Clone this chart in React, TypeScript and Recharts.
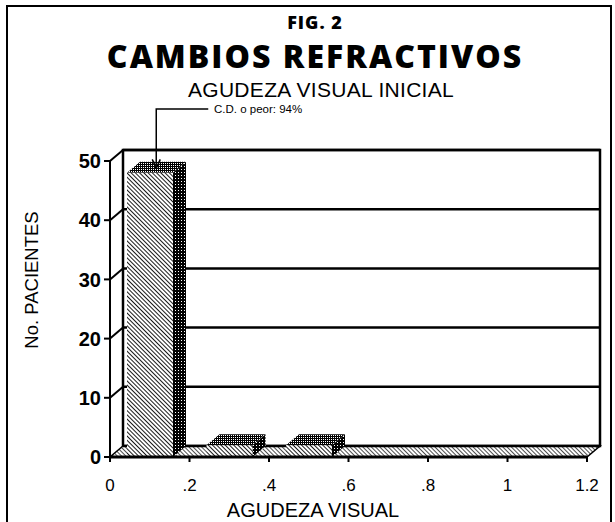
import { BarChart, Bar, XAxis, YAxis, ReferenceArea, ReferenceLine, ReferenceDot } from 'recharts'

// values
const agudeza = [0.1, 0.3, 0.5]
const pacientes = [48, 2, 2]
const xTicks = [0, 0.2, 0.4, 0.6, 0.8, 1, 1.2]
const xTickLabels = ['0', '.2', '.4', '.6', '.8', '1', '1.2']
const yTicks = [0, 10, 20, 30, 40, 50]
const gridLevels = [10, 20, 30, 40, 50]

const data = agudeza.map((x, i) => ({ agudeza: x, pacientes: pacientes[i] }))

// depth of the fake 3D box
const DX = 13
const DY = -11
const SANS = '"Liberation Sans", Arial, sans-serif'
const TITLE = '"Open Sans", Lato, sans-serif'

function Box3D(props: any) {
  const { x, y, width, height } = props
  if (!height || height <= 0) return null
  const r = x + width
  const b = y + height
  return (
    <g>
      <polygon
        points={`${x},${y} ${x + DX},${y + DY} ${r + DX},${y + DY} ${r},${y}`}
        fill="url(#dots)"
      />
      <polygon
        points={`${r},${y} ${r + DX},${y + DY} ${r + DX},${b + DY} ${r},${b}`}
        fill="url(#dark)"
      />
      <rect x={x} y={y} width={width} height={height} fill="url(#hatch)" />
    </g>
  )
}

function BackWall(props: any) {
  const { x, y, width, height } = props
  return (
    <rect x={x + DX} y={y + DY} width={width} height={height} fill="#fff" stroke="#000" strokeWidth={2.5} />
  )
}

function Floor(props: any) {
  const { x1, y1, x2, y2 } = props
  return (
    <g>
      <polygon
        points={`${x1},${y1} ${x2},${y2} ${x2 + DX},${y2 + DY} ${x1 + DX},${y1 + DY}`}
        fill="url(#floor)"
        stroke="#000"
        strokeWidth={1.5}
      />
      <line x1={x1 + DX} y1={y1 + DY} x2={x2 + DX} y2={y2 + DY} stroke="#000" strokeWidth={2.5} />
    </g>
  )
}

function GridLine(props: any) {
  const { x1, y1, x2, y2 } = props
  return (
    <g>
      <line x1={x1 + DX} y1={y1 + DY} x2={x2 + DX} y2={y2 + DY} stroke="#000" strokeWidth={2.5} />
      <line x1={x1} y1={y1} x2={x1 + DX} y2={y1 + DY} stroke="#000" strokeWidth={2} />
    </g>
  )
}

function Pointer(props: any) {
  const { cx, cy } = props
  const tx = cx + DX / 2
  const ty = cy + DY / 2 + 1
  return (
    <g stroke="#000" strokeWidth={1.5} fill="none">
      <polyline points={`${tx},${ty} ${tx},109 ${tx + 52},109`} />
      <polyline points={`${tx - 4},${ty - 9} ${tx},${ty} ${tx + 4},${ty - 9}`} />
    </g>
  )
}

export default function App() {
  return (
    <div style={{ position: 'absolute', left: 0, top: 0, width: 615, height: 522, background: '#fff' }}>
      <svg width={615} height={522} style={{ position: 'absolute', left: 0, top: 0 }}>
        <defs>
          <pattern id="hatch" width="3" height="3" patternUnits="userSpaceOnUse" patternTransform="rotate(-45)">
            <rect width="3" height="3" fill="#fff" />
            <line x1="0" y1="0" x2="0" y2="3" stroke="#000" strokeWidth="1.8" />
          </pattern>
          <pattern id="floor" width="3" height="3" patternUnits="userSpaceOnUse" patternTransform="rotate(-45)">
            <rect width="3" height="3" fill="#fff" />
            <line x1="0" y1="0" x2="0" y2="3" stroke="#000" strokeWidth="1.4" />
          </pattern>
          <pattern id="dark" width="3" height="3" patternUnits="userSpaceOnUse">
            <rect width="3" height="3" fill="#000" />
            <rect x="1" y="1" width="1" height="1" fill="#fff" />
          </pattern>
          <pattern id="dots" width="2" height="2" patternUnits="userSpaceOnUse">
            <rect width="2" height="2" fill="#000" />
            <rect x="1" y="1" width="1" height="1" fill="#fff" />
          </pattern>
        </defs>
        <rect x={7} y={6} width={604} height={520} fill="none" stroke="#000" strokeWidth={2} />
        <text x={315} y={29} textAnchor="middle" fontFamily={TITLE} fontWeight={800} fontSize={18} letterSpacing={1}>
          FIG. 2
        </text>
        <text x={315} y={68} textAnchor="middle" fontFamily={TITLE} fontWeight={800} fontSize={32} letterSpacing={2}>
          CAMBIOS REFRACTIVOS
        </text>
        <text x={321} y={97} textAnchor="middle" fontFamily={SANS} fontSize={21} letterSpacing={0.3}>
          AGUDEZA VISUAL INICIAL
        </text>
        <text x={214} y={113} fontFamily={SANS} fontSize={11.5}>
          C.D. o peor: 94%
        </text>
        <text x={38} y={280} transform="rotate(-90 38 280)" textAnchor="middle" fontFamily={SANS} fontSize={18.5}>
          No. PACIENTES
        </text>
        <text x={313} y={517} textAnchor="middle" fontFamily={SANS} fontSize={20}>
          AGUDEZA VISUAL
        </text>
      </svg>
      <div style={{ position: 'absolute', left: 0, top: 0 }}>
        <BarChart width={615} height={522} data={data} margin={{ top: 161, right: 28, bottom: 0, left: 60 }}>
          <ReferenceArea x1={0} x2={1.2} y1={0} y2={50} shape={BackWall} zIndex={-60} />
          {gridLevels.map((v) => (
            <ReferenceLine key={v} y={v} shape={GridLine} zIndex={-50} />
          ))}
          <ReferenceLine y={0} shape={Floor} zIndex={-40} />
          <XAxis
            type="number"
            dataKey="agudeza"
            domain={[0, 1.2]}
            ticks={xTicks}
            interval={0}
            tickFormatter={(v) => xTickLabels[xTicks.indexOf(v)]}
            height={65}
            axisLine={{ stroke: '#000', strokeWidth: 3 }}
            tickLine={{ stroke: '#000', strokeWidth: 2 }}
            tickSize={5}
            tickMargin={17}
            tick={{ fill: '#000', fontSize: 17, fontFamily: SANS }}
          />
          <YAxis
            domain={[0, 50]}
            ticks={yTicks}
            interval={0}
            width={50}
            axisLine={{ stroke: '#000', strokeWidth: 2 }}
            tickLine={{ stroke: '#000', strokeWidth: 2 }}
            tickSize={6}
            tickMargin={3}
            tick={{ fill: '#000', fontSize: 20, fontWeight: 'bold', fontFamily: SANS }}
          />
          <Bar dataKey="pacientes" barSize={46} shape={Box3D} isAnimationActive={false} />
          <ReferenceDot x={0.1} y={48} shape={Pointer} />
        </BarChart>
      </div>
    </div>
  )
}
